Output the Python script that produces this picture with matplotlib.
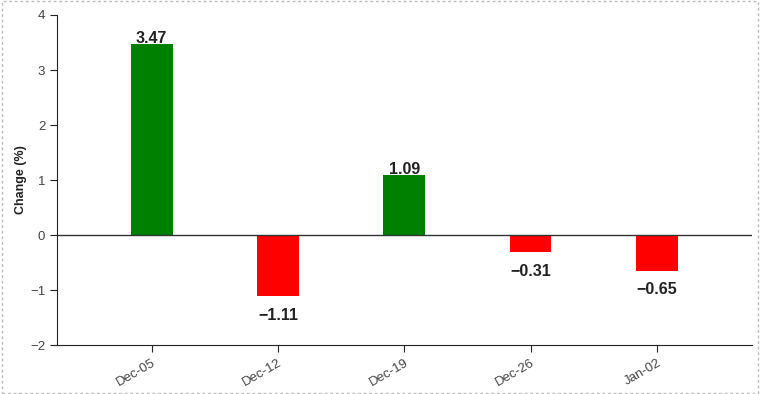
import matplotlib
matplotlib.use("Agg")
import matplotlib.pyplot as plt
from matplotlib.patches import Rectangle

plt.rcParams['font.family'] = ['Liberation Sans', 'DejaVu Sans']

categories = ["Dec-05", "Dec-12", "Dec-19", "Dec-26", "Jan-02"]
changes = [3.47, -1.11, 1.09, -0.31, -0.65]

fig = plt.figure(figsize=(7.6, 3.94), dpi=100)
ax = fig.add_axes([0.075, 0.124, 0.914, 0.838])

x = list(range(len(categories)))
colors = ["#008000" if v >= 0 else "#ff0000" for v in changes]
ax.bar(x, changes, width=0.33, color=colors)

ax.axhline(0, color="#333333", linewidth=1)

for xi, v in zip(x, changes):
    label = f"{v:.2f}".replace("-", "\u2212")
    if v >= 0:
        ax.annotate(label, (xi, v), xytext=(0, -1.5), textcoords="offset points",
                    ha="center", va="bottom", fontsize=11.5, fontweight="bold", color="#222222")
    else:
        ax.annotate(label, (xi, v), xytext=(0, -8.3), textcoords="offset points",
                    ha="center", va="top", fontsize=11.5, fontweight="bold", color="#222222")

ax.set_xlim(-0.75, 4.75)
ax.set_ylim(-2, 4)
ax.set_yticks([-2, -1, 0, 1, 2, 3, 4])
ax.set_xticks(x)
ax.set_xticklabels(categories, rotation=30, ha="right", rotation_mode="anchor")
ax.tick_params(axis="both", labelsize=9.5, colors="#222222", labelcolor="#444444", length=5)
ax.set_ylabel("Change (%)", fontsize=9, fontweight="bold", color="#222222", labelpad=2)

for s in ["top", "right"]:
    ax.spines[s].set_visible(False)
for s in ["left", "bottom"]:
    ax.spines[s].set_color("#222222")

fig.patches.append(Rectangle((0.002, 0.003), 0.996, 0.994, transform=fig.transFigure,
                             fill=False, edgecolor="#bbbbbb", linestyle=(0, (2, 2)), linewidth=1))

fig.savefig("out.png", dpi=100)
